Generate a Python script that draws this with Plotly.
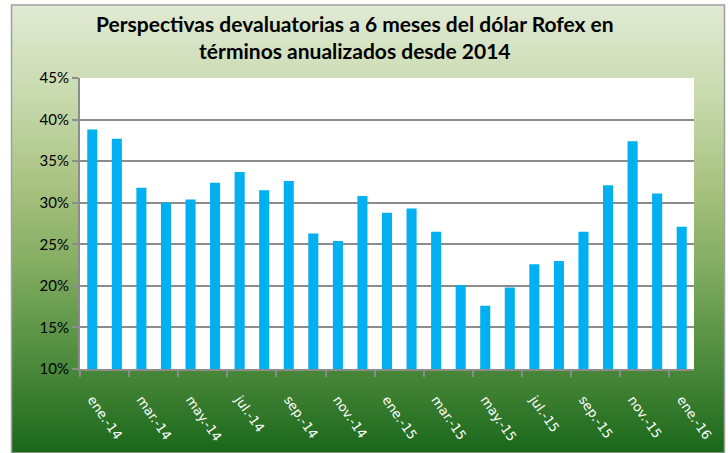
import plotly.graph_objects as go
import urllib.parse

months = ["ene.-14", "feb.-14", "mar.-14", "abr.-14", "may.-14", "jun.-14", "jul.-14",
          "ago.-14", "sep.-14", "oct.-14", "nov.-14", "dic.-14", "ene.-15", "feb.-15",
          "mar.-15", "abr.-15", "may.-15", "jun.-15", "jul.-15", "ago.-15", "sep.-15",
          "oct.-15", "nov.-15", "dic.-15", "ene.-16"]
values_pct = [38.8, 37.7, 31.8, 30.0, 30.4, 32.4, 33.7, 31.5, 32.6, 26.3, 25.4, 30.8,
              28.8, 29.3, 26.5, 20.1, 17.6, 19.8, 22.6, 23.0, 26.5, 32.1, 37.4, 31.1, 27.1]
values = [v / 100 for v in values_pct]

title_lines = ["Perspectivas devaluatorias a 6 meses del dólar Rofex en",
               "términos anualizados desde 2014"]

W, H = 728, 453
L, R, T, B = 80, 34, 78, 84
pw, ph = W - L - R, H - T - B

def px_x(x):
    return (x - L) / pw

def px_y(y):
    return (H - B - y) / ph

grad_svg = (
    "<svg xmlns='http://www.w3.org/2000/svg' width='100' height='100' preserveAspectRatio='none'>"
    "<defs><linearGradient id='g' x1='0' y1='0' x2='0' y2='1'>"
    "<stop offset='0' stop-color='#E0EAD4'/>"
    "<stop offset='0.2' stop-color='#C9DAAE'/>"
    "<stop offset='0.42' stop-color='#A5C07D'/>"
    "<stop offset='0.58' stop-color='#83AD62'/>"
    "<stop offset='0.72' stop-color='#5F974A'/>"
    "<stop offset='0.86' stop-color='#3E8032'/>"
    "<stop offset='1' stop-color='#1A671A'/>"
    "</linearGradient></defs><rect width='100' height='100' fill='url(#g)'/></svg>"
)
grad_uri = "data:image/svg+xml;charset=utf-8," + urllib.parse.quote(grad_svg)

fig = go.Figure()
fig.add_trace(go.Bar(x=months, y=values, marker=dict(color="#00B0F0", line=dict(width=0)),
                     hoverinfo="x+y"))

x0, x1 = px_x(11.5), px_x(724.5)
y0, y1 = px_y(453), px_y(5)

fig.add_layout_image(dict(source=grad_uri, xref="paper", yref="paper", x=x0, y=y1,
                          sizex=x1 - x0, sizey=y1 - y0, sizing="stretch",
                          xanchor="left", yanchor="top", layer="below"))
fig.add_shape(type="rect", xref="x domain", yref="y domain", x0=0, x1=1, y0=0, y1=1,
              fillcolor="white", line=dict(width=0), layer="below")
fig.add_shape(type="rect", xref="paper", yref="paper", x0=x0, x1=x1, y0=y0, y1=y1,
              fillcolor="rgba(0,0,0,0)", line=dict(color="#A0A0A0", width=1.5), layer="above")

fig.add_annotation(text="<b>" + "<br>".join(title_lines) + "</b>", xref="paper", yref="paper",
                   x=px_x(355), y=px_y(37), xanchor="center", yanchor="middle", showarrow=False,
                   font=dict(family="Lato, Calibri, sans-serif", size=21, color="black"),
                   align="center")

fig.update_layout(
    width=W, height=H,
    margin=dict(l=L, r=R, t=T, b=B, autoexpand=False),
    paper_bgcolor="white",
    plot_bgcolor="rgba(0,0,0,0)",
    bargap=0.59,
    showlegend=False,
    font=dict(family="Lato, Calibri, sans-serif"),
    xaxis=dict(type="category", tickmode="linear", tick0=0, dtick=2, tickson="boundaries",
               tickangle=55, ticks="outside", ticklen=6, tickcolor="#8C8C8C", tickwidth=2,
               showline=True, linecolor="#8C8C8C", linewidth=2, showgrid=False,
               automargin=False,
               tickfont=dict(family="DejaVu Sans, sans-serif", size=13, color="white"),
               ticklabelstandoff=16),
    yaxis=dict(range=[0.10, 0.45], dtick=0.05, tick0=0.10, tickformat=".0%",
               ticks="outside", ticklen=6, tickcolor="#8C8C8C", tickwidth=2,
               showline=True, linecolor="#8C8C8C", linewidth=2, automargin=False,
               showgrid=True, gridcolor="#8C8C8C", gridwidth=2, zeroline=False,
               tickfont=dict(size=15, color="black")),
)

fig.write_html("out.html", config={"displayModeBar": False},
               post_script="document.body.style.margin='0';document.body.style.overflow='hidden';")
